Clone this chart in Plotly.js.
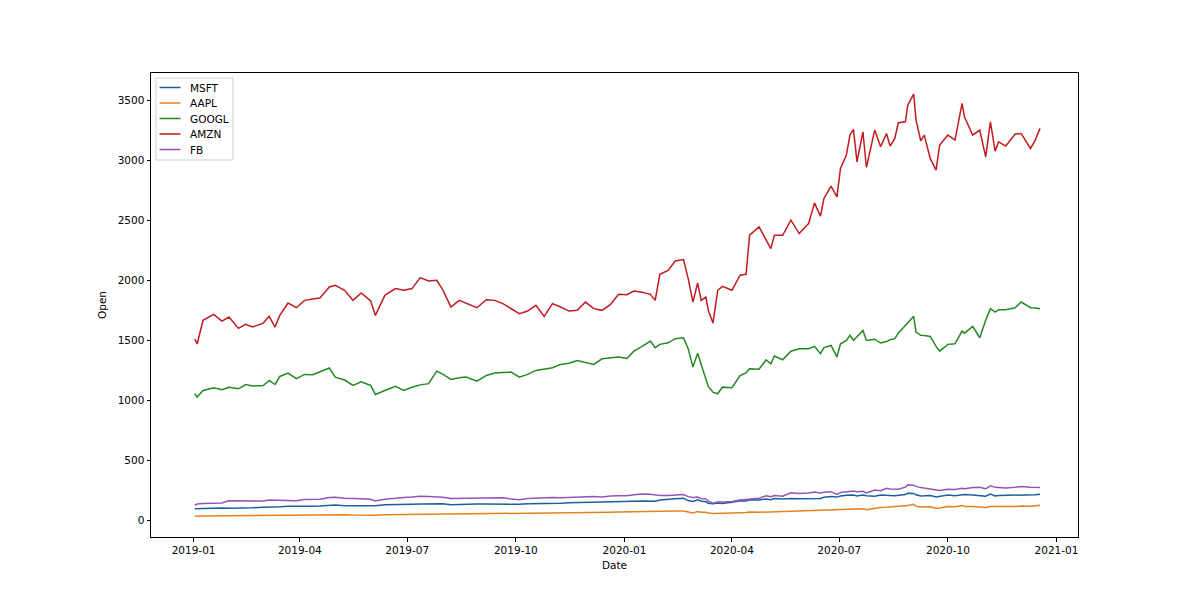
<!DOCTYPE html>
<html>
<head>
<meta charset="utf-8">
<script src="https://cdn.plot.ly/plotly-3.0.1.min.js"></script>
<style>
  body { margin: 0; background: #fff; }
  #plot_open { width: 1200px; height: 604px; }
</style>
</head>
<body>
<div id="plot_open"></div>
<script>
// Opening prices, roughly weekly samples
var dates = [
  '2019-01-02','2019-01-04','2019-01-09','2019-01-18','2019-01-25','2019-01-31',
  '2019-02-08','2019-02-14','2019-02-20',
  '2019-03-01','2019-03-06','2019-03-11','2019-03-15','2019-03-22','2019-03-29',
  '2019-04-05','2019-04-12','2019-04-18','2019-04-26',
  '2019-05-01','2019-05-09','2019-05-16','2019-05-23','2019-05-31',
  '2019-06-04','2019-06-12','2019-06-21','2019-06-28',
  '2019-07-05','2019-07-12','2019-07-19','2019-07-26','2019-07-31',
  '2019-08-07','2019-08-14','2019-08-20','2019-08-29',
  '2019-09-06','2019-09-13','2019-09-20','2019-09-27',
  '2019-10-04','2019-10-11','2019-10-18','2019-10-25',
  '2019-11-01','2019-11-08','2019-11-15','2019-11-22','2019-11-29',
  '2019-12-06','2019-12-13','2019-12-20','2019-12-27',
  '2020-01-03','2020-01-09','2020-01-16','2020-01-23','2020-01-27','2020-01-31',
  '2020-02-07','2020-02-13','2020-02-20','2020-02-24','2020-02-28',
  '2020-03-03','2020-03-06','2020-03-10','2020-03-12','2020-03-16','2020-03-20','2020-03-24',
  '2020-04-01','2020-04-08','2020-04-13','2020-04-16','2020-04-24','2020-04-30',
  '2020-05-04','2020-05-07','2020-05-14','2020-05-21','2020-05-28',
  '2020-06-05','2020-06-10','2020-06-15','2020-06-18','2020-06-24','2020-06-29',
  '2020-07-02','2020-07-07','2020-07-10','2020-07-13','2020-07-16','2020-07-21','2020-07-24','2020-07-31',
  '2020-08-05','2020-08-10','2020-08-13','2020-08-17','2020-08-20','2020-08-26','2020-08-28',
  '2020-09-02','2020-09-04','2020-09-08','2020-09-11','2020-09-16','2020-09-21','2020-09-24',
  '2020-10-01','2020-10-07','2020-10-13','2020-10-15','2020-10-22','2020-10-28',
  '2020-11-02','2020-11-06','2020-11-10','2020-11-13','2020-11-19','2020-11-27',
  '2020-12-02','2020-12-10','2020-12-14','2020-12-18'
];

var msft = [
  99,100,104,107,106,104, 103,106,107,
  112,111,110,115,119,118, 119,120,122,129,
  130,125,126,126,124, 124,132,136,134,
  136,138,140,140,140, 133,136,138,138,
  139,137,141,138, 136,140,140,140,
  144,145,148,149,152, 150,153,157,159,
  158,161,164,166,162,172, 180,183,186,167,160,
  173,162,158,145,140,146,143,
  153,165,164,174,172,180, 174,184,180,185,183,
  183,186,184,195,201,196,
  205,211,210,214,205,213,207,204,
  214,207,209,208,209,217,228,
  227,215,206,207,210,197,203,
  213,208,218,217,213,211,
  204,222,206,210,211,215, 215,211,215,219
];

var aapl = [
  39,36,38,39,39,41, 42,42,43,
  44,44,44,46,48,47, 49,50,51,51,
  52,50,47,45,44, 44,49,50,49,
  51,51,51,52,54, 50,51,53,52,
  53,55,55,55, 56,58,59,61,
  62,64,66,65,67, 67,68,70,72,
  74,76,78,80,77,80, 80,81,80,74,64,
  75,70,70,63,60,62,59,
  62,66,67,72,70,72, 72,76,76,80,80,
  81,86,83,88,91,89,
  92,94,95,98,96,99,90,102,
  109,112,114,116,116,126,127,
  137,120,113,114,115,104,105,
  117,115,125,118,117,115,
  109,118,116,119,117,117, 122,120,122,128
];

var googl = [
  1056,1028,1083,1106,1090,1110, 1097,1133,1120,
  1125,1167,1133,1200,1228,1181, 1217,1215,1240,1270,
  1194,1170,1125,1155,1125, 1050,1083,1117,1083,
  1110,1130,1140,1244,1220, 1175,1190,1195,1161,
  1208,1228,1232,1236, 1194,1217,1250,1262,
  1272,1300,1310,1333,1315, 1300,1347,1355,1361,
  1350,1410,1450,1494,1439,1467, 1480,1514,1522,1431,1278,
  1394,1300,1181,1117,1069,1056,1111,
  1106,1208,1230,1264,1260,1339, 1306,1370,1339,1410,1431,
  1430,1450,1389,1440,1458,1361,
  1472,1500,1542,1500,1530,1583,1500,1510,
  1478,1490,1505,1514,1560,1625,1640,
  1700,1569,1542,1540,1533,1450,1411,
  1467,1472,1578,1560,1617,1522,
  1667,1764,1736,1756,1756,1772, 1819,1772,1770,1764
];

var amzn = [
  1510,1470,1667,1717,1661,1694, 1600,1633,1611,
  1644,1700,1611,1708,1811,1772, 1833,1845,1853,1944,
  1958,1917,1833,1894,1828, 1708,1875,1931,1917,
  1931,2022,1994,2000,1922, 1778,1833,1806,1772,
  1839,1833,1806,1764, 1722,1744,1792,1700,
  1806,1778,1744,1750,1819, 1764,1750,1797,1883,
  1880,1911,1900,1883,1833,2050, 2083,2161,2172,2014,1819,
  1978,1833,1861,1750,1644,1917,1950,
  1917,2042,2050,2375,2444,2333, 2264,2375,2375,2500,2389,
  2472,2644,2533,2681,2783,2694,
  2931,3042,3208,3256,2986,3236,2939,3250,
  3111,3222,3117,3181,3311,3319,3458,
  3550,3333,3161,3208,3014,2917,3125,
  3208,3167,3472,3361,3208,3250,
  3027,3319,3075,3153,3117,3217, 3222,3097,3167,3264
];

var fb = [
  128,138,142,147,147,165, 165,163,162,
  163,172,171,167,167,166, 176,178,178,192,
  194,186,186,183,178, 164,178,189,193,
  196,203,200,200,195, 185,185,186,186,
  190,188,190,180, 175,184,189,188,
  193,190,194,198,202, 200,196,206,208,
  207,215,221,220,216,209, 210,214,218,200,192,
  196,182,180,163,145,156,155,
  159,172,176,176,186,207, 200,210,204,232,227,
  230,238,230,237,241,218,
  235,242,244,246,240,244,231,255,
  249,270,264,262,262,279,298,
  295,285,275,270,262,250,250,
  262,260,270,266,275,278,
  265,290,277,275,272,278, 285,278,278,276
];

var names = ['MSFT', 'AAPL', 'GOOGL', 'AMZN', 'FB'];
var series = [msft, aapl, googl, amzn, fb];
var colors = ['#1c5f9c', '#e5821f', '#218a21', '#c21a1f', '#9254b8'];

var xticks = ['2019-01-01','2019-04-01','2019-07-01','2019-10-01',
              '2020-01-01','2020-04-01','2020-07-01','2020-10-01','2021-01-01'];
var xticklabels = ['2019-01','2019-04','2019-07','2019-10',
                   '2020-01','2020-04','2020-07','2020-10','2021-01'];
var yticks = [0, 500, 1000, 1500, 2000, 2500, 3000, 3500];

var data_plot = series.map(function (s, i) {
  return {
    x: dates,
    y: s,
    name: names[i],
    type: 'scatter',
    mode: 'lines',
    line: { color: colors[i], width: 1.5 }
  };
});

// plot area in pixels, used to place the matplotlib-style legend box
var W = 1200, H = 604;
var mL = 151, mR = 122, mT = 73, mB = 67;
function px(x) { return (x - mL) / (W - mL - mR); }
function py(y) { return (H - mB - y) / (H - mT - mB); }

var legendShapes = [{
  type: 'rect', xref: 'paper', yref: 'paper',
  x0: px(156), x1: px(233), y0: py(78), y1: py(160),
  line: { color: '#cfcfcf', width: 1 }, fillcolor: 'rgba(255,255,255,0.8)'
}];
var legendNotes = [];
names.forEach(function (n, i) {
  var rowY = 87.5 + i * 15.5;
  legendShapes.push({
    type: 'line', xref: 'paper', yref: 'paper',
    x0: px(159.5), x1: px(180.5), y0: py(rowY), y1: py(rowY),
    line: { color: colors[i], width: 1.5 }
  });
  legendNotes.push({
    xref: 'paper', yref: 'paper', x: px(188), y: py(rowY),
    xanchor: 'left', yanchor: 'middle', showarrow: false,
    text: n, font: { family: 'DejaVu Sans', size: 10.5, color: '#000' }
  });
});

var axisCommon = {
  showgrid: false,
  zeroline: false,
  showline: true,
  mirror: true,
  linecolor: '#000',
  linewidth: 1,
  ticks: 'outside',
  ticklen: 3.5,
  tickwidth: 1,
  tickcolor: '#000',
  tickfont: { family: 'DejaVu Sans', size: 10.5, color: '#000' }
};

var layout = {
  width: W,
  height: H,
  margin: { l: mL, r: mR, t: mT, b: mB },
  paper_bgcolor: '#fff',
  plot_bgcolor: '#fff',
  showlegend: false,
  shapes: legendShapes,
  annotations: legendNotes,
  xaxis: Object.assign({}, axisCommon, {
    type: 'date',
    range: ['2018-11-25 22:00', '2021-01-19 05:00'],
    tickmode: 'array',
    tickvals: xticks,
    ticktext: xticklabels,
    title: { text: 'Date', font: { family: 'DejaVu Sans', size: 10.5, color: '#000' }, standoff: 6 }
  }),
  yaxis: Object.assign({}, axisCommon, {
    range: [-136, 3725],
    tickmode: 'array',
    tickvals: yticks,
    title: { text: 'Open', font: { family: 'DejaVu Sans', size: 10.5, color: '#000' }, standoff: 8 }
  })
};

Plotly.newPlot('plot_open', data_plot, layout, { displayModeBar: false, staticPlot: true });
</script>
</body>
</html>
